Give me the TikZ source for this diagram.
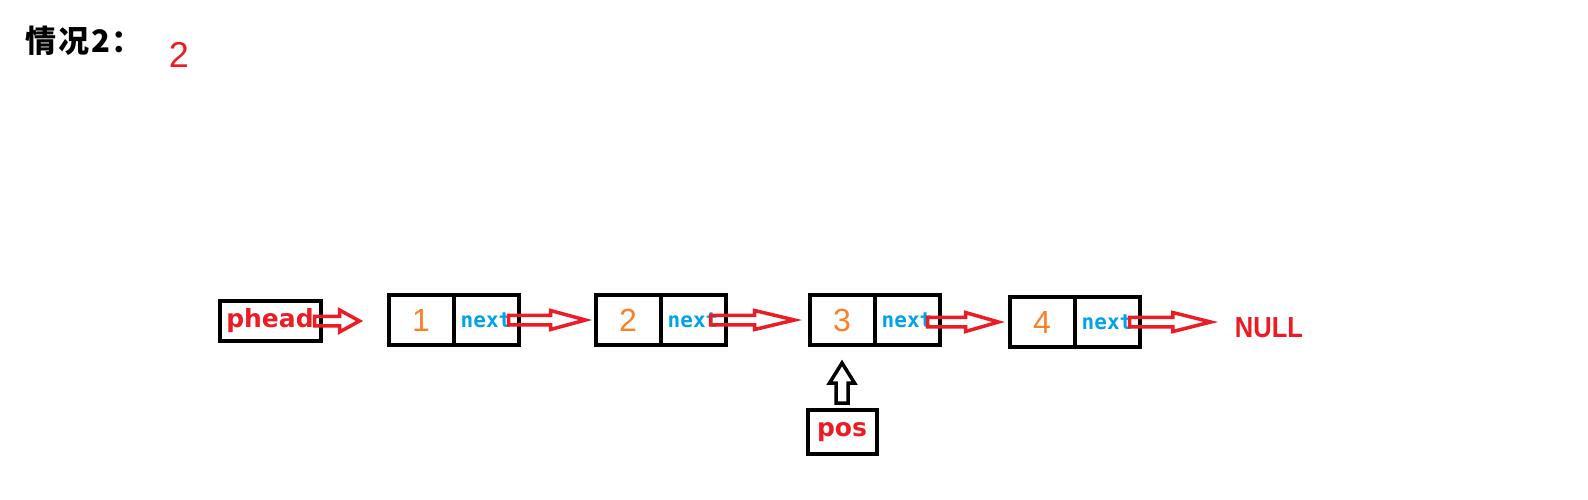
\documentclass[tikz,border=0pt]{standalone}
\usepackage{fontspec}
\usetikzlibrary{calc,positioning}
\newfontfamily\cjk{Noto Sans CJK SC}[LetterSpace=6]
\newfontfamily\lblfont{DejaVu Sans}
\newfontfamily\nxtfont{DejaVu Sans Mono}
\newfontfamily\numfont{Liberation Sans}
\definecolor{pred}{RGB}{237,28,36}
\definecolor{porange}{RGB}{255,127,39}
\definecolor{pblue}{RGB}{0,162,232}
\tikzset{
  cell/.style={draw, line width=4pt, minimum width=65pt, minimum height=50pt, inner sep=0pt, outer sep=0pt},
  data/.style={cell, text=porange, font=\numfont\fontsize{32}{32}\selectfont},
  link/.style={cell, text=pblue, font=\nxtfont\bfseries\fontsize{21}{21}\selectfont},
  ptr/.style={draw, line width=4pt, inner sep=0pt, outer sep=0pt, text=pred, font=\lblfont\bfseries\fontsize{25}{25}\selectfont},
  % hollow arrow sizes
  fa shaft/.store in=\fashaft, fa head/.store in=\fahead, fa len/.store in=\falen,
  fa shaft=4.75pt, fa head=9.5pt, fa len=35pt,
}
% hollow (outlined) arrow from #2 to #3
\newcommand{\fatarrow}[3][]{%
  \begin{scope}[draw=pred, line width=3.5pt, #1]
    \coordinate (fa-s) at #2;
    \coordinate (fa-t) at #3;
    \coordinate (fa-h) at ($(fa-t)!\falen!(fa-s)$);
    \draw ($(fa-s)!\fashaft!90:(fa-t)$) -- ($(fa-h)!\fashaft!90:(fa-t)$)
      -- ($(fa-h)!\fahead!90:(fa-t)$) -- (fa-t)
      -- ($(fa-h)!\fahead!-90:(fa-t)$) -- ($(fa-h)!\fashaft!-90:(fa-t)$)
      -- ($(fa-s)!\fashaft!-90:(fa-t)$) -- cycle;
  \end{scope}}

\begin{document}
\begin{tikzpicture}[x=1pt, y=-1pt]
  \useasboundingbox (0,0) rectangle (1588,499);
  \node[anchor=west, font=\cjk\bfseries\fontsize{31}{31}\selectfont] (title) at (22,41) {情况2：};
  \node[text=pred, font=\numfont\fontsize{36}{36}\selectfont] (case) at (179,55) {2};

  \node[ptr, minimum width=101pt, minimum height=40pt] (phead) at (270,321) {phead};
  \node[data] (d1) at (421,320) {1};
  \node[link, right=0pt of d1] (p1) {next\hspace{10pt}};
  \node[data] (d2) at (628,320) {2};
  \node[link, right=0pt of d2] (p2) {next\hspace{10pt}};
  \node[data] (d3) at (842,320) {3};
  \node[link, right=0pt of d3] (p3) {next\hspace{10pt}};
  \node[data] (d4) at (1042,322) {4};
  \node[link, right=0pt of d4] (p4) {next\hspace{10pt}};
  \node[text=pred, font=\numfont\bfseries\fontsize{29}{29}\selectfont, inner sep=0pt] (null) at (1269,328) {\scalebox{0.88}[1]{NULL}};
  \node[ptr, minimum width=69pt, minimum height=44pt] (pos) at (842,432) {pos};

  \fatarrow[fa head=11pt, fa len=20pt]{([xshift=-6pt]phead.east)}{([xshift=-29pt]d1.west |- phead.east)}
  \fatarrow{([xshift=-10pt]p1.east)}{([xshift=-10pt]d2.west)}
  \fatarrow[fa len=40pt]{([xshift=-15pt]p2.east)}{([xshift=-15pt]d3.west)}
  \fatarrow[fa len=33pt]{([xshift=-12pt]p3.east |- d4.west)}{([xshift=-11pt]d4.west)}
  \fatarrow[fa len=38pt]{([xshift=-10pt]p4.east)}{([xshift=-24pt]null.west |- p4.east)}
  \fatarrow[draw=black, fa shaft=6pt, fa head=12.5pt, fa len=20pt]{([yshift=7pt]pos.north)}{([yshift=-18pt]d3.south)}
\end{tikzpicture}
\end{document}
